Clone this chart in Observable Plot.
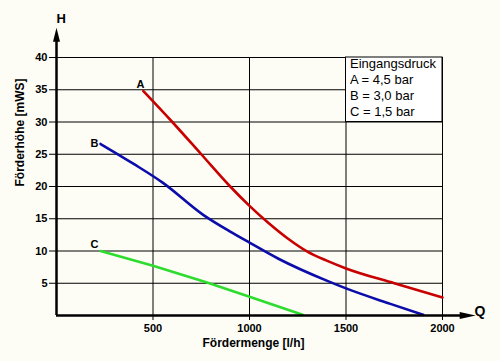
<!DOCTYPE html>
<html>
<head>
<meta charset="utf-8">
<script src="https://cdn.jsdelivr.net/npm/d3@7"></script>
<script src="https://cdn.jsdelivr.net/npm/@observablehq/plot@0.6"></script>
<style>
  html, body { margin: 0; padding: 0; background: #fdfdf6; }
</style>
</head>
<body>
<div id="chart"></div>
<script>
// ---- data ----
const seriesNames = ["A", "B", "C"];
const aQ = [450, 600, 750, 900, 1000, 1100, 1200, 1300, 1400, 1500, 1750, 2000];
const aH = [34.8, 30.0, 25.0, 20.0, 17.0, 14.3, 11.9, 9.9, 8.5, 7.3, 5.0, 2.8];
const bQ = [228, 400, 550, 760, 900, 1000, 1150, 1400, 1500, 1730, 1900];
const bH = [26.6, 23.5, 20.6, 15.6, 13.0, 11.3, 8.8, 5.4, 4.2, 1.8, 0.1];
const cQ = [228, 500, 780, 1000, 1275];
const cH = [10.0, 7.7, 5.1, 2.9, 0.1];
const xTicks = [500, 1000, 1500, 2000];
const yTicks = [5, 10, 15, 20, 25, 30, 35, 40];
const legendLines = ["Eingangsdruck", "A = 4,5 bar", "B = 3,0 bar", "C = 1,5 bar"];
const xTitle = "Fördermenge [l/h]";
const yTitle = "Förderhöhe [mWS]";
const xAxisName = "Q";
const yAxisName = "H";

// ---- build ----
const toPts = (qs, hs) => qs.map((q, i) => ({q, h: hs[i]}));
const A = toPts(aQ, aH), B = toPts(bQ, bH), C = toPts(cQ, cH);
const colors = {A: "#c80000", B: "#0c0caa", C: "#2edc2e"};
const xAxisEnd = 2172, yAxisEnd = 44.6;
const legendBox = {x1: xTicks[2], x2: xTicks[3], y1: yTicks[5], y2: yTicks[7]};

const arrowRight = {draw(ctx) { ctx.moveTo(0, 0); ctx.lineTo(-16, -3.5); ctx.lineTo(-16, 3.5); ctx.closePath(); }};
const arrowUp = {draw(ctx) { ctx.moveTo(0, 0); ctx.lineTo(-3.5, 14); ctx.lineTo(3.5, 14); ctx.closePath(); }};

const bold = {fontWeight: "bold", fill: "black"};

const chart = Plot.plot({
  width: 500,
  height: 361,
  marginLeft: 56,
  marginRight: 58,
  marginTop: 57,
  marginBottom: 46,
  style: {background: "#fdfdf6", fontFamily: "'Liberation Sans', Arial, sans-serif", color: "black"},
  x: {domain: [0, 2000]},
  y: {domain: [0, 40]},
  marks: [
    Plot.gridY(yTicks, {stroke: "black", strokeOpacity: 1, strokeWidth: 1}),
    Plot.gridX(xTicks, {stroke: "black", strokeOpacity: 1, strokeWidth: 1}),
    Plot.axisY(yTicks, {tickSize: 7, tickPadding: 2, fontSize: 11, fontWeight: "bold", label: null, stroke: "black"}),
    Plot.axisX(xTicks, {tickSize: 5, tickPadding: 4, fontSize: 11, fontWeight: "bold", label: null, stroke: "black", tickFormat: d => String(d)}),
    Plot.rect([legendBox], {x1: "x1", x2: "x2", y1: "y1", y2: "y2", fill: "white", stroke: "black", strokeWidth: 1}),
    Plot.text([legendLines.join("\n")], {x: legendBox.x1, y: legendBox.y2, textAnchor: "start", lineAnchor: "top", dx: 4, dy: -1, fontSize: 13, lineHeight: 1.23, fill: "black"}),
    Plot.line(C, {x: "q", y: "h", stroke: colors.C, strokeWidth: 2.6, curve: "linear"}),
    Plot.line(B, {x: "q", y: "h", stroke: colors.B, strokeWidth: 2.6, curve: "monotone-x"}),
    Plot.line(A, {x: "q", y: "h", stroke: colors.A, strokeWidth: 2.6, curve: "monotone-x"}),
    Plot.text([A[0]], {x: "q", y: "h", text: () => seriesNames[0], textAnchor: "end", dx: 1, dy: -7, fontSize: 11, ...bold}),
    Plot.text([B[0]], {x: "q", y: "h", text: () => seriesNames[1], textAnchor: "end", dx: -2, dy: 0, fontSize: 11, ...bold}),
    Plot.text([C[0]], {x: "q", y: "h", text: () => seriesNames[2], textAnchor: "end", dx: -2, dy: -7, fontSize: 11, ...bold}),
    // axes with arrows
    Plot.ruleY([0], {x1: 0, x2: xAxisEnd - 60, stroke: "black", strokeWidth: 2.5}),
    Plot.ruleX([0], {y1: 0, y2: yAxisEnd - 1.5, stroke: "black", strokeWidth: 2.5}),
    Plot.dot([{q: xAxisEnd, h: 0}], {x: "q", y: "h", symbol: arrowRight, fill: "black", stroke: null, r: 5}),
    Plot.dot([{q: 0, h: yAxisEnd}], {x: "q", y: "h", symbol: arrowUp, fill: "black", stroke: null, r: 5}),
    Plot.text([xAxisName], {frameAnchor: "bottom-right", dx: 43, dy: 0, fontSize: 14, ...bold}),
    Plot.text([yAxisName], {frameAnchor: "top-left", dx: 0, dy: -44, fontSize: 13, ...bold}),
    Plot.text([xTitle], {frameAnchor: "bottom", dx: 4, dy: 31, fontSize: 12, ...bold}),
    Plot.text([yTitle], {frameAnchor: "left", rotate: -90, dx: -36, fontSize: 12, ...bold})
  ]
});
document.getElementById("chart").appendChild(chart);
</script>
</body>
</html>
